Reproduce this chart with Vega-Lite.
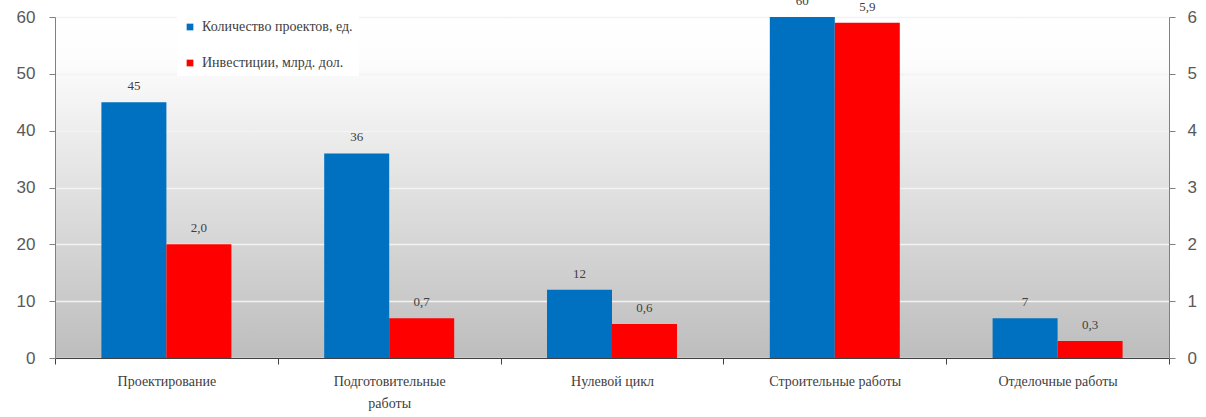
{
  "$schema": "https://vega.github.io/schema/vega-lite/v6.json",
  "width": 1114,
  "height": 341,
  "autosize": {"type": "none"},
  "padding": {"left": 55, "top": 17, "right": 37, "bottom": 59},
  "background": "#ffffff",
  "data": {
    "values": [
      {"category": "Проектирование", "series": "Количество проектов, ед.", "value": 45},
      {"category": "Подготовительные работы", "series": "Количество проектов, ед.", "value": 36},
      {"category": "Нулевой цикл", "series": "Количество проектов, ед.", "value": 12},
      {"category": "Строительные работы", "series": "Количество проектов, ед.", "value": 60},
      {"category": "Отделочные работы", "series": "Количество проектов, ед.", "value": 7},
      {"category": "Проектирование", "series": "Инвестиции, млрд. дол.", "value": 2.0},
      {"category": "Подготовительные работы", "series": "Инвестиции, млрд. дол.", "value": 0.7},
      {"category": "Нулевой цикл", "series": "Инвестиции, млрд. дол.", "value": 0.6},
      {"category": "Строительные работы", "series": "Инвестиции, млрд. дол.", "value": 5.9},
      {"category": "Отделочные работы", "series": "Инвестиции, млрд. дол.", "value": 0.3}
    ]
  },
  "encoding": {
    "x": {
      "field": "category", "type": "nominal", "sort": null, "title": null,
      "scale": {"paddingInner": 0, "paddingOuter": 0},
      "axis": {
        "labelAngle": 0, "tickBand": "extent", "tickSize": 6, "tickColor": "#404040",
        "domainColor": "#404040", "labelPadding": 10, "labelFont": "Liberation Serif",
        "labelFontSize": 14, "labelColor": "#404040", "labelLineHeight": 22,
        "labelExpr": "datum.label == 'Подготовительные работы' ? ['Подготовительные', 'работы'] : datum.label"
      }
    },
    "xOffset": {
      "field": "series", "type": "nominal",
      "sort": ["Количество проектов, ед.", "Инвестиции, млрд. дол."],
      "scale": {"domain": ["Количество проектов, ед.", "Инвестиции, млрд. дол."], "paddingInner": 0, "paddingOuter": 0.714}
    },
    "color": {
      "field": "series", "type": "nominal",
      "scale": {"domain": ["Количество проектов, ед.", "Инвестиции, млрд. дол."], "range": ["#0070c0", "#ff0000"]},
      "legend": {
        "title": null, "orient": "none", "legendX": 122, "legendY": -3,
        "symbolType": "square", "symbolSize": 45, "symbolStrokeWidth": 0,
        "labelFont": "Liberation Serif", "labelFontSize": 14, "labelColor": "#404040",
        "rowPadding": 22, "fillColor": "#ffffff", "padding": 6, "labelOffset": 5
      }
    }
  },
  "layer": [
    {
      "transform": [{"filter": "datum.series == 'Количество проектов, ед.'"}],
      "layer": [
        {
          "mark": {"type": "bar"},
          "encoding": {
            "y": {
              "field": "value", "type": "quantitative", "title": null,
              "scale": {"domain": [0, 60], "nice": false},
              "axis": {
                "orient": "left", "values": [0, 10, 20, 30, 40, 50, 60],
                "grid": true, "gridColor": "#f3f3f3", "gridWidth": 1.5,
                "domainColor": "#808080", "tickColor": "#808080", "tickSize": 6,
                "labelFont": "Liberation Sans", "labelFontSize": 17, "labelColor": "#595959",
                "labelPadding": 14
              }
            }
          }
        },
        {
          "mark": {"type": "text", "baseline": "bottom", "dy": -9, "font": "Liberation Serif", "fontSize": 13, "color": "#404040"},
          "encoding": {
            "y": {"field": "value", "type": "quantitative", "scale": {"domain": [0, 60], "nice": false}},
            "text": {"field": "value", "type": "quantitative", "format": "d"},
            "color": {"value": "#404040"}
          }
        }
      ]
    },
    {
      "transform": [{"filter": "datum.series == 'Инвестиции, млрд. дол.'"}],
      "layer": [
        {
          "mark": {"type": "bar"},
          "encoding": {
            "y": {
              "field": "value", "type": "quantitative", "title": null,
              "scale": {"domain": [0, 6], "nice": false},
              "axis": {
                "orient": "right", "values": [0, 1, 2, 3, 4, 5, 6], "format": "d",
                "grid": false,
                "domainColor": "#808080", "tickColor": "#808080", "tickSize": 6,
                "labelFont": "Liberation Sans", "labelFontSize": 17, "labelColor": "#595959",
                "labelPadding": 12
              }
            }
          }
        },
        {
          "mark": {"type": "text", "baseline": "bottom", "dy": -9, "font": "Liberation Serif", "fontSize": 13, "color": "#404040"},
          "encoding": {
            "y": {"field": "value", "type": "quantitative", "scale": {"domain": [0, 6], "nice": false}},
            "text": {"field": "value", "type": "quantitative", "format": ".1f"},
            "color": {"value": "#404040"}
          }
        }
      ],
      "resolve": {"scale": {"y": "shared"}}
    }
  ],
  "resolve": {"scale": {"y": "independent"}},
  "config": {
    "locale": {"number": {"decimal": ",", "thousands": " ", "grouping": [3], "currency": ["", ""]}},
    "view": {
      "stroke": null,
      "fill": {
        "gradient": "linear", "x1": 0, "y1": 0, "x2": 0, "y2": 1,
        "stops": [
          {"offset": 0, "color": "#ffffff"},
          {"offset": 0.12, "color": "#fdfdfd"},
          {"offset": 1, "color": "#bdbdbd"}
        ]
      }
    }
  }
}
